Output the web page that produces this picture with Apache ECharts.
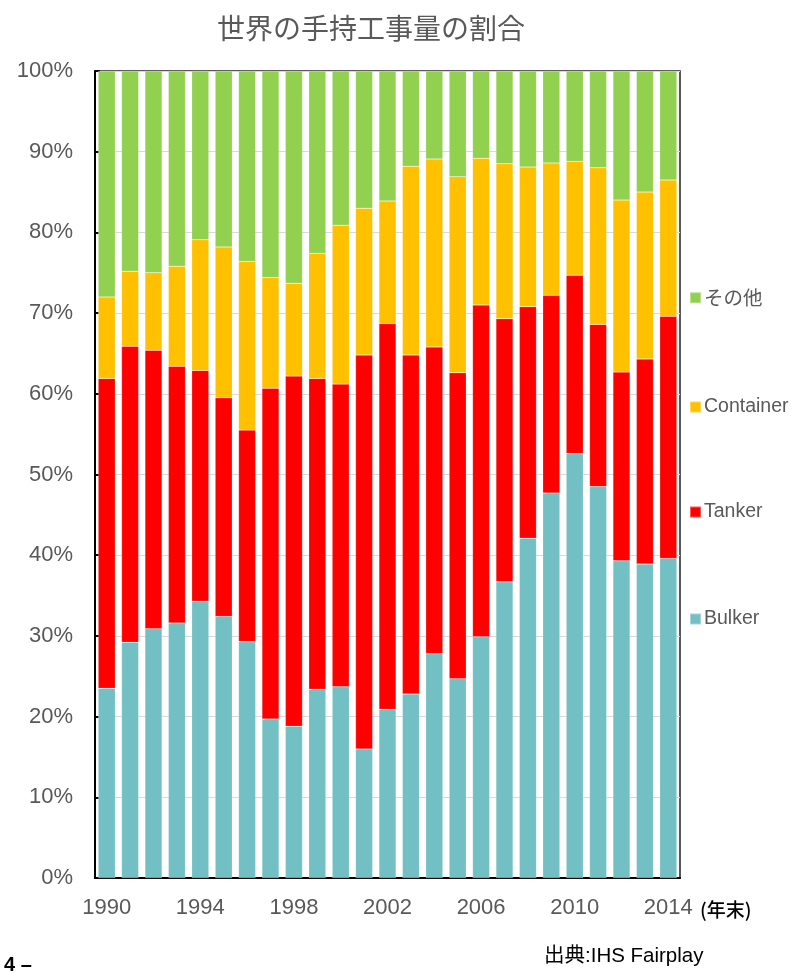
<!DOCTYPE html>
<html>
<head>
<meta charset="utf-8">
<script src="https://cdn.jsdelivr.net/npm/echarts@6/dist/echarts.min.js"></script>
<style>html,body{margin:0;padding:0;background:#fff;}#c{width:793px;height:973px;}</style>
</head>
<body>
<div id="c"></div>
<script>
const years = ['1990','1991','1992','1993','1994','1995','1996','1997','1998','1999','2000','2001','2002','2003','2004','2005','2006','2007','2008','2009','2010','2011','2012','2013','2014'];
const bulker    = [23.5,29.2,30.9,31.6,34.3,32.4,29.3,19.7,18.8,23.4,23.7,16.0,20.9,22.8,27.8,24.7,29.9,36.7,42.1,47.7,52.6,48.5,39.3,38.9,39.6];
const tanker    = [38.4,36.7,34.5,31.8,28.6,27.1,26.2,41.0,43.4,38.5,37.5,48.8,47.8,42.0,38.0,37.9,41.1,32.6,28.7,24.5,22.1,20.1,23.4,25.4,30.0];
const container = [10.1,9.3,9.6,12.4,16.2,18.7,20.9,13.7,11.5,15.5,19.7,18.2,15.2,23.4,23.3,24.3,18.2,19.2,17.3,16.4,14.1,19.4,21.3,20.7,16.9];
const other     = [28.0,24.8,25.0,24.2,20.9,21.8,23.6,25.6,26.3,22.6,19.1,17.0,16.1,11.8,10.9,13.1,10.8,11.5,11.9,11.4,11.2,12.0,16.0,15.0,13.5];
const seriesNames = ['Bulker','Tanker','Container','その他'];
const seriesColors = ['#72BFC4','#FF0000','#FFC000','#92D050'];
const seriesData = [bulker, tanker, container, other];

const FONT = 'Liberation Sans';
const JP = 'Noto Sans CJK JP';
const chart = echarts.init(document.getElementById('c'));
const legendTops = [609, 502, 397, 288];
chart.setOption({
  animation: false,
  title: {
    text: '世界の手持工事量の割合',
    left: 366, top: 9, textAlign: 'center',
    textStyle: {fontFamily: JP, fontSize: 28, fontWeight: 'normal', color: '#595959'}
  },
  legend: seriesNames.map((n, i) => ({
    data: [n], left: 689, top: legendTops[i], orient: 'vertical', padding: 0,
    itemWidth: 11, itemHeight: 11, itemGap: 5, icon: 'rect',
    textStyle: {fontFamily: i === 3 ? JP : FONT, fontSize: 19.5, color: '#595959', padding: [0,0,0,-2]}
  })),
  grid: {left: 95, right: 113, top: 71, bottom: 95, containLabel: false,
         show: true, borderColor: '#222', borderWidth: 1.5},
  xAxis: {
    type: 'category', data: years,
    axisLine: {lineStyle: {color: '#000', width: 2}},
    axisTick: {show: false},
    axisLabel: {interval: 3, fontFamily: FONT, fontSize: 22, color: '#595959', margin: 19}
  },
  yAxis: {
    type: 'value', min: 0, max: 100, interval: 10,
    axisLine: {show: true, lineStyle: {color: '#000', width: 2}},
    axisTick: {show: true, inside: true, length: 5, lineStyle: {color: '#000', width: 2}},
    axisLabel: {formatter: '{value}%', fontFamily: FONT, fontSize: 22, color: '#595959', margin: 22},
    splitLine: {lineStyle: {color: '#d9d9d9', width: 1}}
  },
  series: seriesNames.map((n, i) => ({
    name: n, type: 'bar', stack: 'total', data: seriesData[i],
    barCategoryGap: '27%',
    itemStyle: {color: seriesColors[i], borderColor: 'rgba(255,255,255,0.35)', borderWidth: 0.5}
  })),
  graphic: [
    {type: 'text', left: 700, top: 900, style: {text: '(年末)', font: '500 19px "Noto Sans CJK JP"', fill: '#000'}},
    {type: 'text', left: 544, top: 946, style: {text: '出典:IHS Fairplay', font: '20.5px "Liberation Sans", "Noto Sans CJK JP"', fill: '#000'}},
    {type: 'text', left: 4, top: 955, style: {text: '4 –', font: 'bold 20px "Liberation Sans"', fill: '#000'}}
  ]
});
</script>
</body>
</html>
